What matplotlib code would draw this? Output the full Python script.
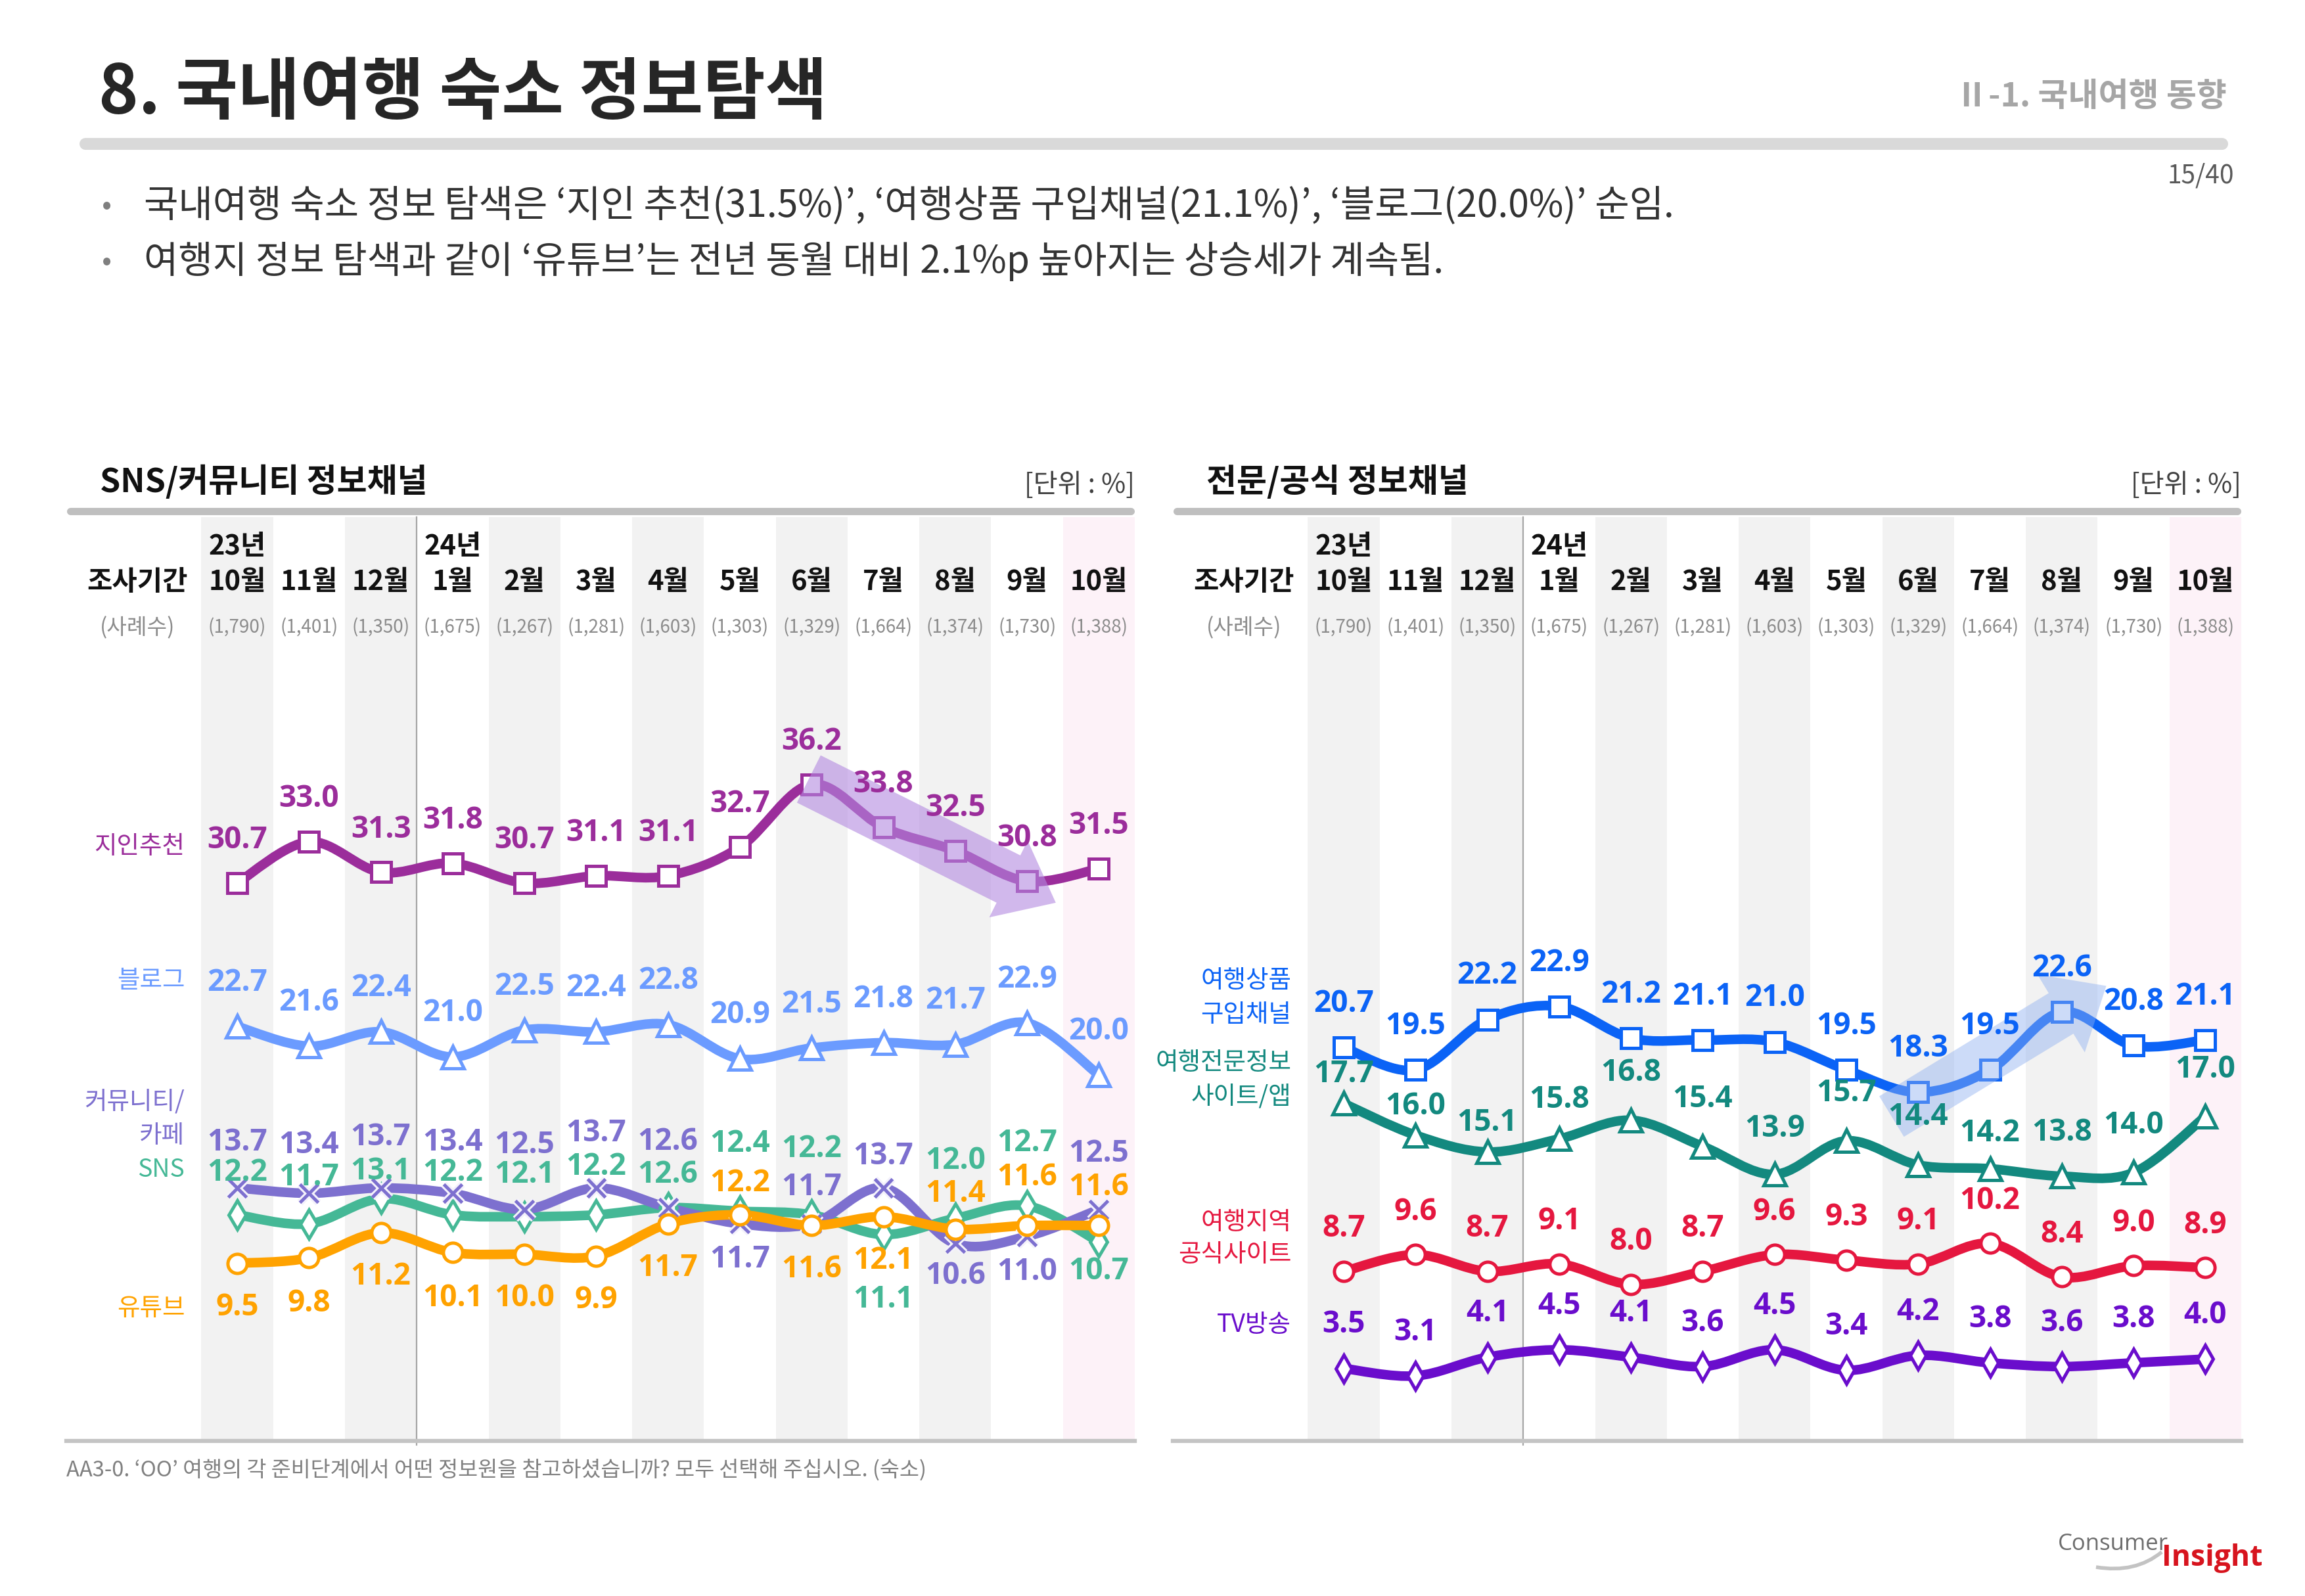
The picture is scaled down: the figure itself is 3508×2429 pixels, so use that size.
import numpy as np
import matplotlib
matplotlib.use('Agg')
import matplotlib.pyplot as plt
from matplotlib.path import Path
from matplotlib.patches import PathPatch, FancyArrowPatch
from matplotlib.lines import Line2D
from matplotlib import patheffects as pe

plt.rcParams['font.family'] = ['Noto Sans CJK KR', 'DejaVu Sans']
NUM_FONT = ['Open Sans', 'Noto Sans CJK KR', 'DejaVu Sans']

# ---- data ----
months = ['10월', '11월', '12월', '1월', '2월', '3월', '4월', '5월', '6월', '7월', '8월', '9월', '10월']
years = ['23년', '', '', '24년', '', '', '', '', '', '', '', '', '']
counts = ['(1,790)', '(1,401)', '(1,350)', '(1,675)', '(1,267)', '(1,281)', '(1,603)',
          '(1,303)', '(1,329)', '(1,664)', '(1,374)', '(1,730)', '(1,388)']

# SNS/커뮤니티 정보채널
friend = [30.7, 33.0, 31.3, 31.8, 30.7, 31.1, 31.1, 32.7, 36.2, 33.8, 32.5, 30.8, 31.5]
blog = [22.7, 21.6, 22.4, 21.0, 22.5, 22.4, 22.8, 20.9, 21.5, 21.8, 21.7, 22.9, 20.0]
community = [13.7, 13.4, 13.7, 13.4, 12.5, 13.7, 12.6, 11.7, 11.7, 13.7, 10.6, 11.0, 12.5]
sns_ch = [12.2, 11.7, 13.1, 12.2, 12.1, 12.2, 12.6, 12.4, 12.2, 11.1, 12.0, 12.7, 10.7]
youtube = [9.5, 9.8, 11.2, 10.1, 10.0, 9.9, 11.7, 12.2, 11.6, 12.1, 11.4, 11.6, 11.6]

# 전문/공식 정보채널
product = [20.7, 19.5, 22.2, 22.9, 21.2, 21.1, 21.0, 19.5, 18.3, 19.5, 22.6, 20.8, 21.1]
travel_site = [17.7, 16.0, 15.1, 15.8, 16.8, 15.4, 13.9, 15.7, 14.4, 14.2, 13.8, 14.0, 17.0]
official = [8.7, 9.6, 8.7, 9.1, 8.0, 8.7, 9.6, 9.3, 9.1, 10.2, 8.4, 9.0, 8.9]
tv = [3.5, 3.1, 4.1, 4.5, 4.1, 3.6, 4.5, 3.4, 4.2, 3.8, 3.6, 3.8, 4.0]

# label offsets (points, + = above marker)
off_community = [50, 53, 56, 56, 71, 60, 72, -39, 40, 35, -35, -39, 61]
off_sns = [46, 51, 30, 46, 46, 53, 36, 74, 72, -71, 63, 69, -32]
off_youtube = [-48, -50, -48, -50, -48, -48, -48, 35, -48, -48, 39, 53, 42]
off_travel_site = [32, 32, 32, 43, 52, 52, 50, 52, 53, 39, 48, 52, 52]

C_FRIEND = '#9B2D9B'
C_BLOG = '#6B9BFF'
C_COMM = '#7D70CF'
C_SNS = '#45B896'
C_YT = '#FFA200'
C_PROD = '#0B63F6'
C_SITE = '#13897F'
C_OFF = '#E5173F'
C_TV = '#6A0DCC'


def smooth_path(x, y):
    pts = np.column_stack([x, y]).astype(float)
    n = len(pts)
    verts = [pts[0]]
    codes = [Path.MOVETO]
    for i in range(n - 1):
        p0 = pts[max(i - 1, 0)]
        p1 = pts[i]
        p2 = pts[i + 1]
        p3 = pts[min(i + 2, n - 1)]
        verts += [p1 + (p2 - p0) / 6, p2 - (p3 - p1) / 6, p2]
        codes += [Path.CURVE4] * 3
    return Path(verts, codes)


def draw_series(ax, vals, color, marker, ms, offs, halo=False):
    x = np.arange(len(vals))
    ax.add_patch(PathPatch(smooth_path(x, vals), fc='none', ec=color, lw=10.5,
                           capstyle='round', joinstyle='round', zorder=3))
    line, = ax.plot(x, vals, ls='none', marker=marker, ms=ms, mfc='white',
                    mec=color, mew=3.6, zorder=4)
    if halo:
        line.set_path_effects([pe.Stroke(linewidth=8, foreground='#f4f2fb'), pe.Normal()])
    for xi, v, o in zip(x, vals, offs):
        ax.annotate(f'{v:.1f}', (xi, v), xytext=(0, o), textcoords='offset points',
                    ha='center', va='center', color=color, fontsize=33,
                    fontweight='bold', family=NUM_FONT, zorder=6)


W, H = 3508, 2429
fig = plt.figure(figsize=(W / 100, H / 100), dpi=100)


def fx(px):
    return px / W


def fy(py):
    return 1 - py / H


# ---- page header ----
fig.text(fx(150), fy(143), '8. 국내여행 숙소 정보탐색', fontsize=74, fontweight='bold',
         color='#262626', ha='left', va='center')
fig.text(fx(3389), fy(148), 'Ⅱ-1. 국내여행 동향', fontsize=36, fontweight='bold',
         color='#a6a6a6', ha='right', va='center')
fig.add_artist(Line2D([fx(130), fx(3382)], [fy(219), fy(219)], lw=13, color='#d9d9d9',
                      solid_capstyle='round', transform=fig.transFigure))
fig.text(fx(3400), fy(268), '15/40', fontsize=28, color='#595959', ha='right', va='center')

bullets = ['국내여행 숙소 정보 탐색은 ‘지인 추천(31.5%)’, ‘여행상품 구입채널(21.1%)’, ‘블로그(20.0%)’ 순임.',
           '여행지 정보 탐색과 같이 ‘유튜브’는 전년 동월 대비 2.1%p 높아지는 상승세가 계속됨.']
for yy, b in zip([313, 398], bullets):
    fig.text(fx(163), fy(yy), '•', fontsize=32, color='#7f7f7f', ha='center', va='center')
    fig.text(fx(219), fy(yy), b, fontsize=41, color='#333333', ha='left', va='center')

# ---- panels ----
panels = [
    dict(left=101, title='SNS/커뮤니티 정보채널', ylim=(-0.37, 51.1),
         labels=[('지인추천', 0.643, C_FRIEND), ('블로그', 0.498, C_BLOG),
                 ('커뮤니티/', 0.366, C_COMM), ('카페', 0.330, C_COMM),
                 ('SNS', 0.293, C_SNS), ('유튜브', 0.143, C_YT)]),
    dict(left=1785, title='전문/공식 정보채널', ylim=(-0.35, 49.12),
         labels=[('여행상품', 0.498, C_PROD), ('구입채널', 0.461, C_PROD),
                 ('여행전문정보', 0.409, C_SITE), ('사이트/앱', 0.372, C_SITE),
                 ('여행지역', 0.236, C_OFF), ('공식사이트', 0.201, C_OFF),
                 ('TV방송', 0.125, C_TV)]),
]

axes = []
for p in panels:
    left = p['left']
    width = 1626
    ax = fig.add_axes([fx(left), fy(2192), width / W, 1405 / H])
    ax.set_xlim(-2.38, 12.5)
    ax.set_ylim(*p['ylim'])
    ax.axis('off')
    for i in range(0, 12, 2):
        ax.axvspan(i - 0.5, i + 0.5, color='#f2f2f2', lw=0, zorder=0)
    ax.axvspan(11.5, 12.5, color='#fdf2f8', lw=0, zorder=0)
    ax.plot([2.5, 2.5], [1.0, -0.005], color='#a6a6a6', lw=1.6,
            transform=ax.get_xaxis_transform(), clip_on=False, zorder=1)
    tr = ax.get_xaxis_transform()
    for i in range(13):
        if years[i]:
            ax.text(i, 0.968, years[i], transform=tr, ha='center', va='center',
                    fontsize=30, fontweight='bold', color='#111111')
        ax.text(i, 0.9295, months[i], transform=tr, ha='center', va='center',
                fontsize=30, fontweight='bold', color='#111111')
        ax.text(i, 0.880, counts[i], transform=tr, ha='center', va='center',
                fontsize=20, color='#8c8c8c')
    ax.text(-1.39, 0.9295, '조사기간', transform=tr, ha='center', va='center',
            fontsize=30, fontweight='bold', color='#111111')
    ax.text(-1.39, 0.880, '(사례수)', transform=tr, ha='center', va='center',
            fontsize=24, color='#8c8c8c')
    for txt, yy, c in p['labels']:
        ax.text(-0.73, yy, txt, transform=tr, ha='right', va='center',
                fontsize=27, color=c)
    # panel title, unit, rules
    fig.text(fx(left + 51), fy(734), p['title'], fontsize=36, fontweight='bold',
             color='#111111', ha='left', va='center')
    fig.text(fx(left + width), fy(738), '[단위 : %]', fontsize=29, color='#404040',
             ha='right', va='center')
    fig.add_artist(Line2D([fx(left + 6), fx(left + width - 6)], [fy(778), fy(778)], lw=8,
                          color='#bfbfbf', solid_capstyle='round', transform=fig.transFigure))
    fig.add_artist(Line2D([fx(left), fx(left + width)], [fy(2193), fy(2193)], lw=4.5,
                          color='#c4c4c4', transform=fig.transFigure))
    axes.append(ax)

axl, axr = axes

draw_series(axl, friend, C_FRIEND, 's', 21, [47] * 13)
draw_series(axl, blog, C_BLOG, '^', 24, [48] * 13)
draw_series(axl, sns_ch, C_SNS, 'd', 22, off_sns)
draw_series(axl, community, C_COMM, 'x', 20, off_community, halo=True)
draw_series(axl, youtube, C_YT, 'o', 21, off_youtube)

draw_series(axr, product, C_PROD, 's', 21, [48] * 13)
draw_series(axr, travel_site, C_SITE, '^', 24, off_travel_site)
draw_series(axr, official, C_OFF, 'o', 21, [47] * 13)
draw_series(axr, tv, C_TV, 'd', 21, [48] * 13)

# trend arrows
axl.add_patch(FancyArrowPatch((7.96, 36.5), (11.4, 29.6),
                              arrowstyle='simple,tail_width=58,head_width=94,head_length=58',
                              mutation_scale=1, shrinkA=0, shrinkB=0, color='#B38AE0',
                              alpha=0.6, lw=0, zorder=5))
axr.add_patch(FancyArrowPatch((7.63, 17.0), (10.62, 24.0),
                              arrowstyle='simple,tail_width=52,head_width=100,head_length=58',
                              mutation_scale=1, shrinkA=0, shrinkB=0, color='#8FB0F0',
                              alpha=0.45, lw=0, zorder=5))

# footnote
fig.text(fx(101), fy(2237), 'AA3-0. ‘OO’ 여행의 각 준비단계에서 어떤 정보원을 참고하셨습니까? 모두 선택해 주십시오. (숙소)',
         fontsize=23.5, color='#808080', ha='left', va='center')

# logo
fig.text(fx(3132), fy(2350), 'Consumer', fontsize=25, color='#6d6d6d', ha='left',
         va='center', family=['Open Sans', 'DejaVu Sans'])
fig.text(fx(3290), fy(2372), 'Insight', fontsize=32, fontweight='bold', color='#d7141e',
         ha='left', va='center', family=['Open Sans', 'DejaVu Sans'])
swoosh = Path([(fx(3190), fy(2385)), (fx(3250), fy(2395)), (fx(3290), fy(2362))],
              [Path.MOVETO, Path.CURVE3, Path.CURVE3])
fig.add_artist(PathPatch(swoosh, fc='none', ec='#c3c3c3', lw=4, transform=fig.transFigure))

fig.savefig('out.png', dpi=100)
